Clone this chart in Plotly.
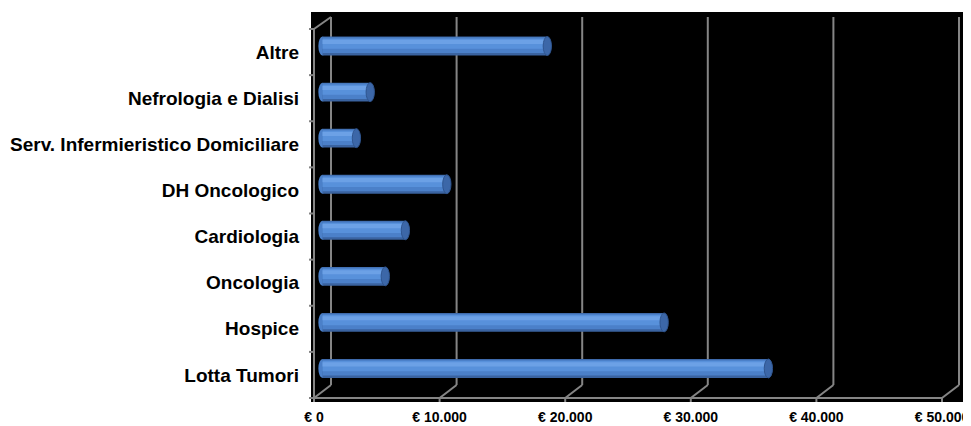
import plotly.graph_objects as go

# ---- data (bottom-to-top order) ----
categories = ["Lotta Tumori", "Hospice", "Oncologia", "Cardiologia",
              "DH Oncologico", "Serv. Infermieristico Domiciliare",
              "Nefrologia e Dialisi", "Altre"]
values = [35500, 27200, 5000, 6600, 9900, 2700, 3800, 17900]
x_ticks = [0, 10000, 20000, 30000, 40000, 50000]
x_ticktext = ["€ 0", "€ 10.000", "€ 20.000", "€ 30.000", "€ 40.000", "€ 50.000"]

# ---- geometry (window pixels; page body has an 8px margin) ----
OFF = 8
W, H = 971 - OFF, 426 - OFF
XMAX = 50000
FRONT_X0, FRONT_X1 = 314, 942
BACK_X0, BACK_X1 = 331, 959
FRONT_TOP, FRONT_BOT = 29, 398
BACK_TOP, BACK_BOT = 17, 385
MID_X0, MID_X1 = (FRONT_X0 + BACK_X0) / 2, (FRONT_X1 + BACK_X1) / 2
MID_TOP, MID_BOT = (FRONT_TOP + BACK_TOP) / 2, (FRONT_BOT + BACK_BOT) / 2
XPAD = 400  # extra data range to the left for the rounded bar start


def fx(t):
    return FRONT_X0 + (FRONT_X1 - FRONT_X0) * t / XMAX


def bx(t):
    return BACK_X0 + (BACK_X1 - BACK_X0) * t / XMAX


def px(x):
    return (x - OFF) / W


def py(y):
    return (H - (y - OFF)) / H


def xdom(a, b):
    return [px(a), px(b)]


def ydom(top, bot):
    return [py(bot), py(top)]


GRID = "#858585"

# frame (3D walls / gridlines), in window pixels
fxs, fys = [], []


def seg(x0, y0, x1, y1):
    fxs.extend([x0, x1, None])
    fys.extend([y0, y1, None])


for t in x_ticks:
    seg(bx(t), BACK_TOP, bx(t), BACK_BOT)
    seg(fx(t), FRONT_BOT, bx(t), BACK_BOT)
    seg(fx(t), FRONT_BOT, fx(t), FRONT_BOT + 4)
seg(fx(0), FRONT_BOT, fx(XMAX), FRONT_BOT)
seg(FRONT_X0, FRONT_TOP, FRONT_X0, FRONT_BOT)
seg(FRONT_X0, FRONT_TOP, BACK_X0, BACK_TOP)
n = len(categories)
for k in range(n + 1):
    yy = FRONT_BOT - k * (FRONT_BOT - FRONT_TOP) / n
    seg(FRONT_X0 - 5, yy, FRONT_X0, yy)

fig = go.Figure()
fig.add_trace(go.Scatter(x=fxs, y=fys, mode="lines",
                         line=dict(color=GRID, width=2),
                         xaxis="x", yaxis="y", hoverinfo="skip", showlegend=False))

idx = list(range(n))
# invisible trace for the front (label) axes
fig.add_trace(go.Scatter(x=values, y=idx, mode="markers", opacity=0,
                         xaxis="x2", yaxis="y2", hoverinfo="skip", showlegend=False))

# cylinder-looking bars (layers)
BW = 0.41
layers = [
    (BW, -BW / 2, "#3A63A0"),
    (0.34, -0.34 / 2 + 0.02, "#4B80C9"),
    (0.22, -0.11 + 0.05, "#5891DB"),
    (0.09, -0.045 + 0.09, "#6CA1E6"),
]
for w, off, col in layers:
    fig.add_trace(go.Bar(x=values, y=idx, orientation="h", width=w, offset=off,
                         marker=dict(color=col, line=dict(width=0)),
                         xaxis="x3", yaxis="y3", showlegend=False, hoverinfo="skip"))

shapes = [dict(type="rect", xref="paper", yref="paper",
               x0=px(311), x1=px(965), y0=py(402), y1=py(12),
               fillcolor="black", line=dict(width=0), layer="below")]
CAP = 330
for i, v in zip(idx, values):
    shapes.append(dict(type="circle", xref="x3", yref="y3",
                       x0=-CAP, x1=CAP, y0=i - BW / 2, y1=i + BW / 2,
                       fillcolor="#4B80C9", line=dict(width=0), layer="below"))
    shapes.append(dict(type="circle", xref="x3", yref="y3",
                       x0=v - CAP, x1=v + CAP, y0=i - BW / 2, y1=i + BW / 2,
                       fillcolor="#3C67A8", line=dict(color="#2F558F", width=1),
                       layer="above"))

mid_scale = (MID_X1 - MID_X0) / XMAX
fig.update_layout(
    template="none",
    width=W, height=H,
    margin=dict(l=0, r=0, t=0, b=0, pad=0),
    paper_bgcolor="white", plot_bgcolor="rgba(0,0,0,0)",
    barmode="overlay",
    showlegend=False,
    shapes=shapes,
    xaxis=dict(domain=[0, 1], range=[OFF, OFF + W], visible=False,
               automargin=False, fixedrange=True),
    yaxis=dict(domain=[0, 1], range=[OFF + H, OFF], visible=False,
               automargin=False, fixedrange=True),
    xaxis2=dict(domain=xdom(FRONT_X0, FRONT_X1), range=[0, XMAX], anchor="y2",
                tickvals=x_ticks, ticktext=x_ticktext, ticks="",
                showgrid=False, zeroline=False, showline=False, automargin=False,
                ticklabelstandoff=9, ticklabeloverflow="allow",
                tickfont=dict(family="Liberation Sans Narrow, Liberation Sans, Arial",
                              size=14, color="black", weight="bold")),
    yaxis2=dict(domain=ydom(FRONT_TOP, FRONT_BOT), range=[-0.5, n - 0.5], anchor="x2",
                tickvals=idx, ticktext=categories, ticks="",
                showgrid=False, zeroline=False, showline=False, automargin=False,
                ticklabelstandoff=14, ticklabeloverflow="allow",
                tickfont=dict(family="Liberation Sans, Arial", size=19,
                              color="black", weight="bold")),
    xaxis3=dict(domain=xdom(MID_X0 - XPAD * mid_scale, MID_X1),
                range=[-XPAD, XMAX], anchor="y3", visible=False, automargin=False),
    yaxis3=dict(domain=ydom(MID_TOP, MID_BOT), range=[-0.5, n - 0.5],
                anchor="x3", visible=False, automargin=False),
)

fig.write_html("out.html")
